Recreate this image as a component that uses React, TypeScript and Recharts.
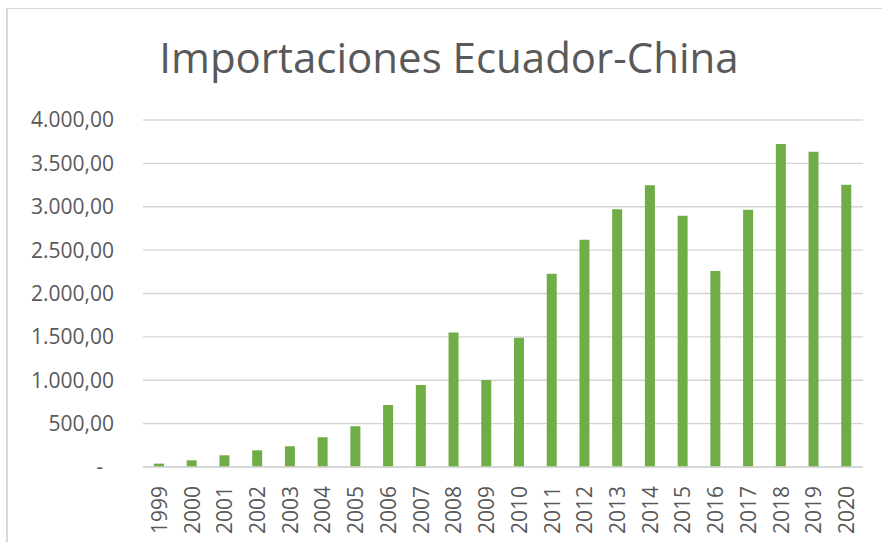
import React from "react";
import { BarChart, Bar, XAxis, YAxis, CartesianGrid } from "recharts";

const years = ["1999","2000","2001","2002","2003","2004","2005","2006","2007","2008","2009","2010","2011","2012","2013","2014","2015","2016","2017","2018","2019","2020"];
const imports = [39, 77, 135, 192, 239, 343, 470, 715, 946, 1551, 1004, 1490, 2227, 2619, 2970, 3247, 2896, 2258, 2965, 3724, 3635, 3254];
const yTicks = [0, 500, 1000, 1500, 2000, 2500, 3000, 3500, 4000];
const title = "Importaciones Ecuador-China";

const data = years.map((y, i) => ({ year: y, value: imports[i] }));

const FONT = "'Open Sans', sans-serif";
const GRAY = "#595959";

function fmt(v: number): string {
  if (v === 0) return "-";
  const fixed = v.toFixed(2);
  const [intPart, dec] = fixed.split(".");
  const withDots = intPart.replace(/\B(?=(\d{3})+(?!\d))/g, ".");
  return withDots + "," + dec;
}

const YTick = (props: any) => {
  const { x, y, payload } = props;
  const v = payload.value as number;
  return (
    <text x={v === 0 ? x - 11 : x} y={y} dy="0.355em" textAnchor="end" fill={GRAY} fontSize={21} fontFamily={FONT}>
      {fmt(v)}
    </text>
  );
};

const XTick = (props: any) => {
  const { x, y, payload } = props;
  return (
    <text
      x={0}
      y={0}
      dy="0.355em"
      textAnchor="end"
      fill={GRAY}
      fontSize={21}
      fontFamily={FONT}
      transform={`translate(${x},${y + 11}) rotate(-90)`}
    >
      {payload.value}
    </text>
  );
};

export default function App() {
  return (
    <div style={{ position: "absolute", left: 0, top: 0, width: 882, height: 542, background: "#fff", overflow: "hidden" }}>
      <div style={{ position: "absolute", left: 6, top: 8, width: 900, height: 560, borderLeft: "2px solid #d9d9d9", borderTop: "1px solid #d9d9d9", boxSizing: "border-box" }} />
      <svg width={882} height={100} style={{ position: "absolute", left: 0, top: 0 }}>
        <text x={449} y={73} textAnchor="middle" fill={GRAY} fontSize={42} fontFamily={FONT}>
          {title}
        </text>
      </svg>
      <div style={{ position: "absolute", left: 0, top: 0 }}>
        <BarChart width={882} height={542} data={data} margin={{ top: 120, right: 19, bottom: 0, left: 0 }}>
          <CartesianGrid vertical={false} stroke="#d4d4d4" strokeWidth={1.3} />
          <XAxis
            dataKey="year"
            height={75}
            interval={0}
            tickLine={false}
            axisLine={{ stroke: "#d4d4d4", strokeWidth: 1.3 }}
            tick={<XTick />}
          />
          <YAxis
            width={143}
            domain={[0, 4000]}
            ticks={yTicks}
            interval={0}
            axisLine={false}
            tickLine={false}
            tickSize={0}
            tickMargin={29}
            tick={<YTick />}
          />
          <Bar dataKey="value" fill="#70AD47" barSize={10} isAnimationActive={false} />
        </BarChart>
      </div>
    </div>
  );
}
